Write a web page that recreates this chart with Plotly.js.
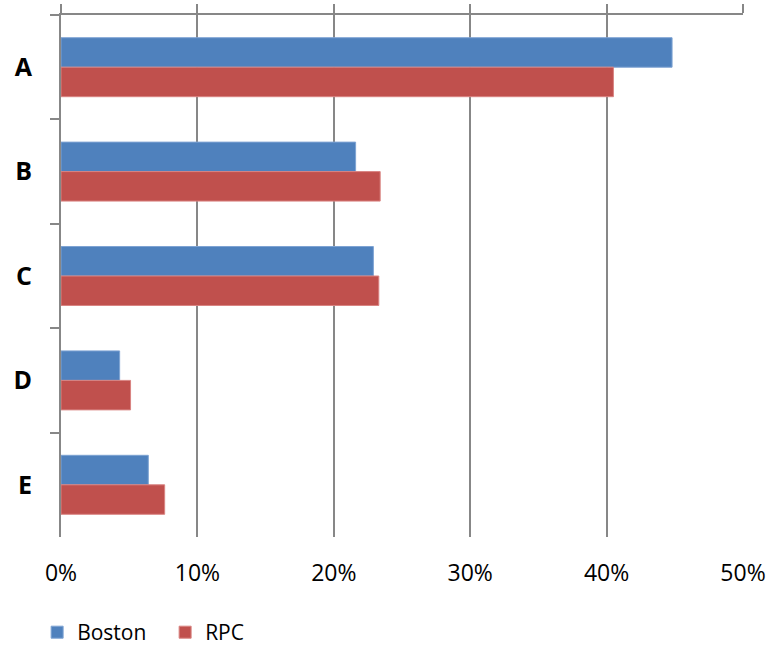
<!DOCTYPE html>
<html>
<head>
<meta charset="utf-8">
<script src="https://cdn.plot.ly/plotly-3.0.1.min.js"></script>
<style>html,body{margin:0;padding:0;background:#fff;}#chart{width:770px;height:649px;}</style>
</head>
<body>
<div id="chart"></div>
<script>
const categories = ["A", "B", "C", "D", "E"];
const bostonValues = [0.448, 0.216, 0.229, 0.043, 0.064];
const rpcValues = [0.405, 0.234, 0.233, 0.051, 0.076];
const xTickValues = [0, 0.1, 0.2, 0.3, 0.4, 0.5];
const xTickLabels = ["0%", "10%", "20%", "30%", "40%", "50%"];

const FONT = "Open Sans, Liberation Sans, sans-serif";
const GRID = "#878787";

const traces = [
  {type: "bar", orientation: "h", name: "Boston", y: categories, x: bostonValues,
   marker: {color: "#4F81BD", line: {color: "#7EA3D3", width: 1}}, hoverinfo: "x+y"},
  {type: "bar", orientation: "h", name: "RPC", y: categories, x: rpcValues,
   marker: {color: "#C0504D", line: {color: "#D98482", width: 1}}, hoverinfo: "x+y"},
  {type: "scatter", mode: "markers", x: [0], y: ["A"], xaxis: "x2", showlegend: false,
   marker: {opacity: 0}, hoverinfo: "skip"}
];

const layout = {
  width: 770, height: 649,
  margin: {l: 61, r: 27, t: 15, b: 112, autoexpand: false},
  paper_bgcolor: "#fff", plot_bgcolor: "#fff",
  barmode: "group", bargap: 0.435, bargroupgap: 0,
  font: {family: FONT, color: "#000", size: 22},
  xaxis: {range: [0, 0.5], tickvals: xTickValues, ticktext: xTickLabels,
          showgrid: true, gridcolor: GRID, gridwidth: 2, zeroline: false, showline: false,
          ticks: "", ticklabelstandoff: 20, tickfont: {family: FONT, size: 23}, fixedrange: true},
  xaxis2: {range: [0, 0.5], tickvals: xTickValues, overlaying: "x", side: "top",
           showticklabels: false, showgrid: false, zeroline: false,
           showline: true, linecolor: GRID, linewidth: 2,
           ticks: "outside", ticklen: 9, tickwidth: 2, tickcolor: GRID, fixedrange: true},
  yaxis: {autorange: "reversed", type: "category", showline: true, linecolor: GRID, linewidth: 2,
          ticks: "outside", tickson: "boundaries", ticklen: 9, tickwidth: 2, tickcolor: GRID,
          showgrid: false, zeroline: false, ticklabelstandoff: 22,
          tickfont: {family: FONT, size: 25, weight: "bold"}, fixedrange: true},
  showlegend: true,
  legend: {orientation: "h", x: -0.035, xanchor: "left", y: -0.183, yanchor: "middle",
           font: {family: FONT, size: 21}, itemwidth: 30, entrywidth: 83, traceorder: "normal"}
};

Plotly.newPlot("chart", traces, layout, {displayModeBar: false, staticPlot: true});
</script>
</body>
</html>
